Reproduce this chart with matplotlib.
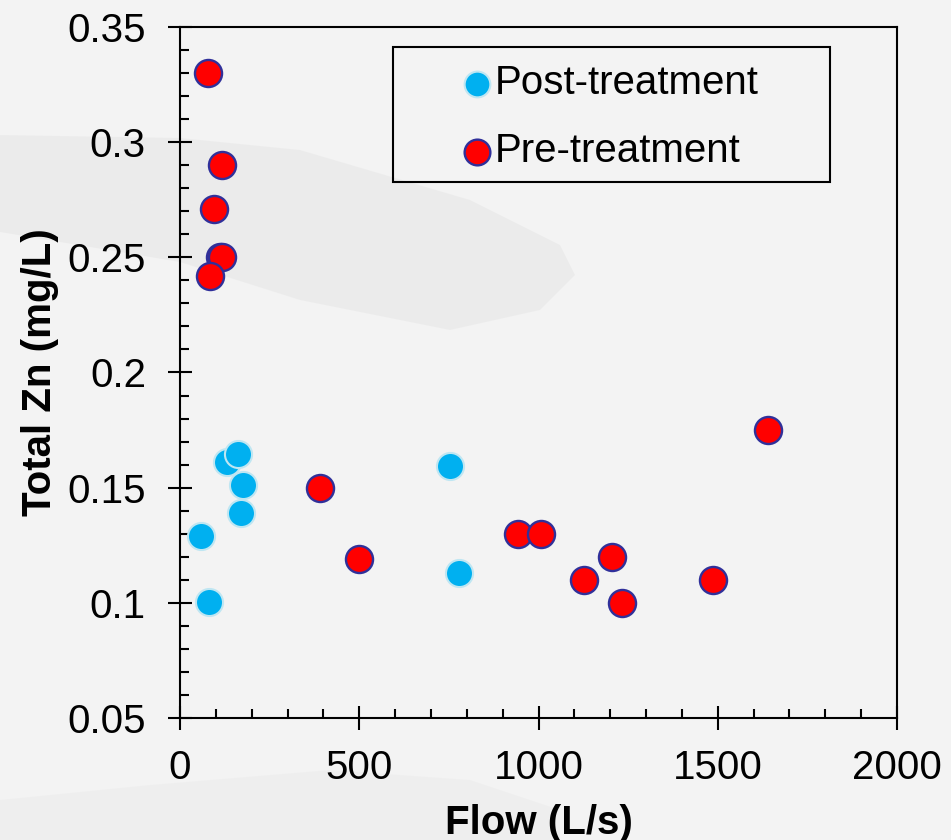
import matplotlib
matplotlib.use("Agg")
import matplotlib.pyplot as plt
from matplotlib.patches import Rectangle, Polygon

plt.rcParams['font.family'] = ['Liberation Sans', 'DejaVu Sans']

# ---- data ----
post_flow = [130, 163, 177, 170, 59, 81, 753, 777]
post_zn = [0.161, 0.1645, 0.151, 0.139, 0.129, 0.1003, 0.1595, 0.113]

pre_flow = [78, 117, 95, 112, 118, 84, 390, 499, 943, 1007, 1205, 1128, 1233, 1488, 1640]
pre_zn = [0.330, 0.290, 0.271, 0.250, 0.250, 0.242, 0.150, 0.119, 0.130, 0.130, 0.120, 0.110, 0.100, 0.110, 0.175]

x_ticks = [0, 500, 1000, 1500, 2000]
y_ticks = [0.05, 0.1, 0.15, 0.2, 0.25, 0.3, 0.35]
y_tick_labels = ['0.05', '0.1', '0.15', '0.2', '0.25', '0.3', '0.35']

series_labels = ['Post-treatment', 'Pre-treatment']
xlabel = 'Flow (L/s)'
ylabel = 'Total Zn (mg/L)'

# ---- figure ----
W, H = 951, 840
fig = plt.figure(figsize=(W / 100, H / 100), dpi=100)
fig.patch.set_facecolor('#f3f3f3')

# subtle background texture shapes (decoration)
bg = fig.add_axes([0, 0, 1, 1], zorder=-10)
bg.set_xlim(0, W)
bg.set_ylim(H, 0)
bg.axis('off')
bg.add_patch(Polygon([(0, 135), (180, 138), (300, 150), (470, 200), (560, 245), (575, 275),
                      (540, 310), (450, 330), (300, 300), (180, 262), (0, 232)],
                     closed=True, facecolor='#e9e9e9', edgecolor='none', alpha=0.7))
bg.add_patch(Polygon([(0, 800), (150, 785), (330, 770), (470, 780), (560, 810),
                      (560, 840), (0, 840)],
                     closed=True, facecolor='#ebebeb', edgecolor='none', alpha=0.5))

ax = fig.add_axes([180 / W, 1 - 718 / H, (897 - 180) / W, (718 - 27) / H])
ax.set_facecolor('none')

FS = 29
ax.scatter(post_flow, post_zn, s=19.5 ** 2, c='#00b0f0', edgecolors='#bfe6f2',
           linewidths=1.5, zorder=3, label=series_labels[0])
ax.scatter(pre_flow, pre_zn, s=19.5 ** 2, c='#ff0000', edgecolors='#30309a',
           linewidths=1.7, zorder=4, label=series_labels[1])

ax.set_xlim(0, 2000)
ax.set_ylim(0.05, 0.35)
ax.set_xticks(x_ticks)
ax.set_xticklabels([str(v) for v in x_ticks])
ax.set_yticks(y_ticks)
ax.set_yticklabels(y_tick_labels)
ax.set_xticks(range(0, 2001, 100), minor=True)
ax.set_yticks([0.05 + 0.01 * i for i in range(31)], minor=True)

ax.tick_params(axis='both', which='major', direction='inout', length=17, width=1.5,
               labelsize=FS, colors='black')
ax.tick_params(axis='both', which='minor', direction='in', length=6.3, width=1.5)
ax.tick_params(axis='x', which='major', pad=14)
ax.tick_params(axis='y', which='major', pad=16)

for sp in ax.spines.values():
    sp.set_linewidth(1.5)
    sp.set_color('black')

ax.set_xlabel(xlabel, fontsize=FS, fontweight='bold', labelpad=12)
ax.set_ylabel(ylabel, fontsize=FS, fontweight='bold', labelpad=6)

# legend box
x0 = (393 - 180) / 717
y0 = (718 - 182) / 691
bw = (830 - 393) / 717
bh = (182 - 47) / 691
ax.add_patch(Rectangle((x0, y0), bw, bh, transform=ax.transAxes, fill=False,
                       edgecolor='black', linewidth=1.5, zorder=5))
leg = ax.legend(loc='center', bbox_to_anchor=(x0 + bw / 2 - 0.002, y0 + bh / 2 - 0.004),
                frameon=False, fontsize=FS, handlelength=0.8, handletextpad=0.05,
                labelspacing=0.75, markerscale=0.95, borderpad=0)
leg.set_zorder(6)

fig.savefig('out.png', dpi=100, facecolor=fig.get_facecolor())
